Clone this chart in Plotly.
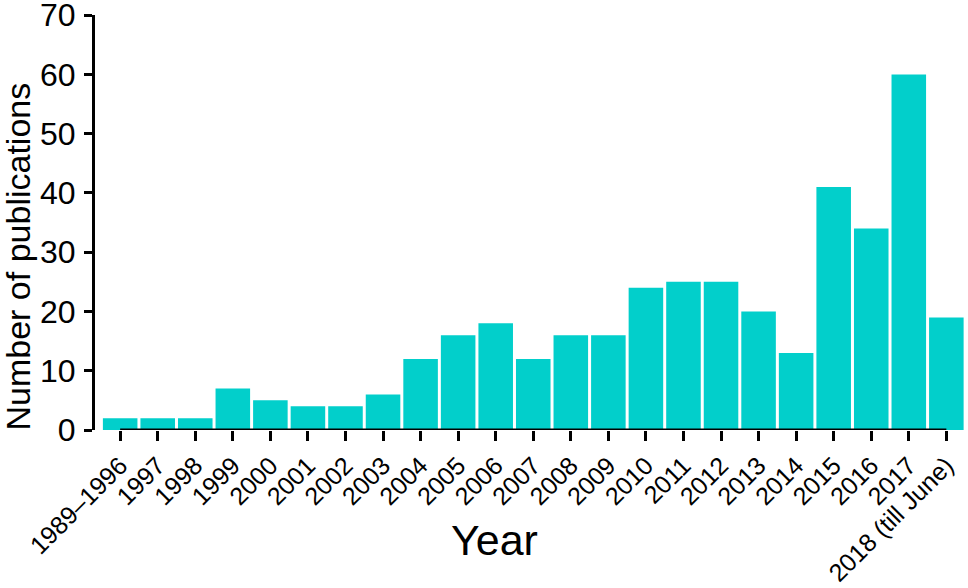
import plotly.graph_objects as go

categories = ["1989–1996", "1997", "1998", "1999", "2000", "2001", "2002", "2003",
              "2004", "2005", "2006", "2007", "2008", "2009", "2010", "2011", "2012",
              "2013", "2014", "2015", "2016", "2017", "2018 (till June)"]
publications = [2, 2, 2, 7, 5, 4, 4, 6, 12, 16, 18, 12, 16, 16, 24, 25, 25, 20, 13, 41, 34, 60, 19]
y_ticks = [0, 10, 20, 30, 40, 50, 60, 70]

BAR_COLOR = "#02CFCB"
FONT = "Liberation Sans, Arial, sans-serif"

fig = go.Figure()
fig.add_trace(go.Bar(
    x=categories,
    y=publications,
    marker=dict(color=BAR_COLOR, line=dict(width=0)),
    showlegend=False,
))

W, H = 968, 588
ML, MR, MT, MB = 95, 4, 15, 158
pw = W - ML - MR
ph = H - MT - MB

fig.update_layout(
    width=W, height=H,
    margin=dict(l=ML, r=MR, t=MT, b=MB, pad=0, autoexpand=False),
    paper_bgcolor="white",
    plot_bgcolor="white",
    bargap=0.08,
    font=dict(family=FONT, color="black"),
    xaxis=dict(
        type="category",
        range=[-0.67, 22.47],
        automargin=False,
        showline=False,
        showgrid=False,
        zeroline=False,
        ticks="outside",
        ticklen=10,
        tickwidth=3,
        tickcolor="black",
        tickangle=-45,
        ticklabeloverflow="allow",
        tickfont=dict(size=25, family=FONT, color="black"),
    ),
    yaxis=dict(
        range=[0, 70.02],
        automargin=False,
        tickvals=y_ticks,
        showline=True,
        linewidth=3,
        linecolor="black",
        showgrid=False,
        zeroline=False,
        ticks="outside",
        ticklen=8,
        tickwidth=3,
        tickcolor="black",
        ticklabelstandoff=2,
        ticklabeloverflow="allow",
        tickfont=dict(size=32, family=FONT, color="black"),
    ),
)

# x axis line spanning first to last category (Prism-style offset axis)
fig.add_shape(type="line", xref="x", yref="y",
              x0=categories[0], x1=categories[-1], y0=0, y1=0,
              line=dict(color="black", width=3), layer="above")

# axis titles
fig.add_annotation(text="Number of publications", xref="paper", yref="paper",
                   x=(17 - ML) / pw, y=(430 - 256.5) / ph, xanchor="center", yanchor="middle",
                   textangle=-90, showarrow=False, borderpad=0,
                   font=dict(size=34, family=FONT, color="black"))
fig.add_annotation(text="Year", xref="paper", yref="paper",
                   x=(494 - ML) / pw, y=(430 - 540) / ph, xanchor="center", yanchor="middle",
                   showarrow=False,
                   font=dict(size=43, family=FONT, color="black"))

fig.write_html("out.html",
               config={"displayModeBar": False},
               post_script="document.body.style.margin='0';document.body.style.overflow='hidden';")
